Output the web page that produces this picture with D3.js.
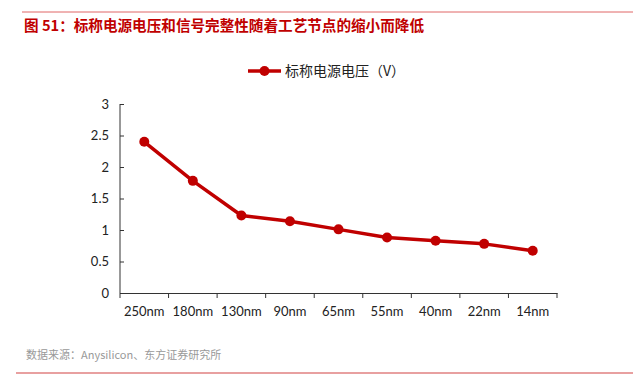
<!DOCTYPE html>
<html>
<head>
<meta charset="utf-8">
<style>
  body { margin: 0; background: #fff; }
  svg text { font-family: Lato, "Noto Sans CJK SC", sans-serif; }
</style>
</head>
<body>
<svg id="chart" width="633" height="375"></svg>
<script src="https://d3js.org/d3.v7.min.js"></script>
<script>
  // nodes and nominal voltage
  const nodes = ["250nm","180nm","130nm","90nm","65nm","55nm","40nm","22nm","14nm"];
  const voltage = [2.4, 1.78, 1.23, 1.14, 1.01, 0.88, 0.83, 0.78, 0.67];
  const yTicks = [0, 0.5, 1, 1.5, 2, 2.5, 3];
  const seriesName = "标称电源电压（V）";

  const red = "#c00000";
  const svg = d3.select("#chart");

  // header and footer
  svg.append("line").attr("x1", 22).attr("x2", 633).attr("y1", 12).attr("y2", 12)
    .style("stroke", "#e06666").style("stroke-width", 1);
  svg.append("text").attr("x", 24).attr("y", 31)
    .text("图 51：标称电源电压和信号完整性随着工艺节点的缩小而降低")
    .style("font-family", "'Noto Sans CJK SC'").style("font-weight", "bold")
    .style("font-size", "14.6px").style("fill", red);
  svg.append("text").attr("x", 26).attr("y", 359)
    .text("数据来源：Anysilicon、东方证券研究所")
    .style("font-family", "'Noto Sans CJK SC'").style("font-size", "11px").style("fill", "#999");
  svg.append("line").attr("x1", 16).attr("x2", 633).attr("y1", 373).attr("y2", 373)
    .style("stroke", "#e8a0a0").style("stroke-width", 2);

  const x = d3.scaleBand().domain(nodes).range([120, 557]);
  const y = d3.scaleLinear().domain([0, 3]).range([293, 104]);

  const yAxis = svg.append("g").attr("transform", "translate(120,0)")
    .call(d3.axisLeft(y).tickValues(yTicks).tickFormat(d => d).tickSize(4).tickSizeOuter(0));
  yAxis.select(".domain").remove();
  yAxis.selectAll(".tick line").attr("x1", 0).attr("x2", 4).style("stroke", "#333");
  yAxis.append("line").attr("y1", y(0)).attr("y2", y(3)).style("stroke", "#333");
  yAxis.selectAll("text").attr("x", -11).style("font-size", "13px").style("fill", "#222");

  const xAxis = svg.append("g").attr("transform", "translate(0,293)")
    .call(d3.axisBottom(x).tickSize(0));
  xAxis.select(".domain").style("stroke", "#333");
  xAxis.selectAll("text").attr("y", 14).style("font-size", "13px").style("fill", "#222");
  // tick marks at category boundaries
  xAxis.selectAll(".bound").data(nodes.concat([null]))
    .enter().append("line")
      .attr("x1", (d, i) => 120 + i * x.step()).attr("x2", (d, i) => 120 + i * x.step())
      .attr("y1", 0).attr("y2", 5).style("stroke", "#333");

  const cx = d => x(d) + x.bandwidth() / 2;
  const line = d3.line().x((d, i) => cx(nodes[i])).y(d => y(d));
  svg.append("path").datum(voltage).attr("d", line)
    .style("fill", "none").style("stroke", red).style("stroke-width", 3.5).style("stroke-linejoin", "round");
  svg.selectAll("circle.pt").data(voltage).enter().append("circle")
    .attr("class", "pt")
    .attr("cx", (d, i) => cx(nodes[i])).attr("cy", d => y(d)).attr("r", 5)
    .style("fill", red);

  // legend
  const lg = svg.append("g");
  lg.append("line").attr("x1", 248).attr("x2", 281).attr("y1", 71).attr("y2", 71)
    .style("stroke", red).style("stroke-width", 3.5);
  lg.append("circle").attr("cx", 264.5).attr("cy", 71).attr("r", 5).style("fill", red);
  lg.append("text").attr("x", 285).attr("y", 76).text(seriesName)
    .style("font-family", "'Noto Sans CJK SC'").style("font-size", "14px").style("fill", "#222");
</script>
</body>
</html>
